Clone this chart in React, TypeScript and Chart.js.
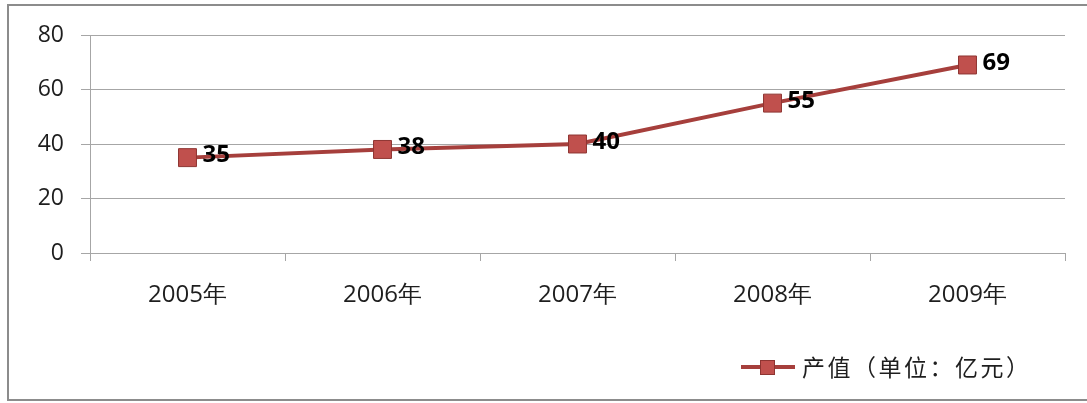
import React, { useEffect, useRef } from "react";
import { Chart, registerables } from "chart.js";

Chart.register(...registerables);

const categories = ["2005年", "2006年", "2007年", "2008年", "2009年"];
const values = [35, 38, 40, 55, 69];
const seriesName = "产值（单位：亿元）";
const yTicks = [0, 20, 40, 60, 80];

const LINE = "#a63f3c";
const FILL = "#c0504d";
const EDGE = "#8e3532";
const GRID = "#a6a6a6";
const TEXT = "#1e1e1e";
const NUM_FONT = "'Open Sans', sans-serif";
const CJK_FONT = "'Noto Sans CJK SC', sans-serif";

const framePlugin = {
  id: "frame",
  beforeDraw(chart: any) {
    const ctx = chart.ctx;
    ctx.save();
    ctx.fillStyle = "#ffffff";
    ctx.fillRect(0, 0, chart.width, chart.height);
    ctx.strokeStyle = "#8c8c8c";
    ctx.lineWidth = 2;
    ctx.strokeRect(8, 5, chart.width + 20, chart.height - 8);
    ctx.restore();
  },
  afterDraw(chart: any) {
    const ctx = chart.ctx;
    const meta = chart.getDatasetMeta(0);
    ctx.save();
    ctx.font = "bold 24px " + NUM_FONT;
    ctx.fillStyle = "#000";
    ctx.textAlign = "left";
    ctx.textBaseline = "middle";
    meta.data.forEach((pt: any, i: number) => {
      ctx.fillText(String(values[i]), pt.x + 15, pt.y - 2);
    });
    // legend
    const ly = 367;
    ctx.strokeStyle = LINE;
    ctx.lineWidth = 4;
    ctx.beginPath();
    ctx.moveTo(741, ly);
    ctx.lineTo(795, ly);
    ctx.stroke();
    ctx.fillStyle = FILL;
    ctx.strokeStyle = EDGE;
    ctx.lineWidth = 1;
    ctx.fillRect(760, ly - 7, 15, 15);
    ctx.strokeRect(760.5, ly - 6.5, 14, 14);
    ctx.font = "23px " + CJK_FONT;
    (ctx as any).letterSpacing = "2.5px";
    ctx.fillStyle = TEXT;
    ctx.textBaseline = "middle";
    ctx.fillText(seriesName, 802, ly);
    ctx.restore();
  },
};

export default function App() {
  const ref = useRef<HTMLCanvasElement | null>(null);
  useEffect(() => {
    if (!ref.current) return;
    const chart = new Chart(ref.current, {
      type: "line",
      data: {
        labels: categories,
        datasets: [
          {
            label: seriesName,
            data: values,
            borderColor: LINE,
            borderWidth: 4,
            backgroundColor: FILL,
            pointStyle: "rect",
            pointRadius: 12.7,
            pointBackgroundColor: FILL,
            pointBorderColor: EDGE,
            pointBorderWidth: 1,
            tension: 0,
          },
        ],
      },
      options: {
        animation: false,
        responsive: false,
        layout: { padding: { left: 0, right: 22, top: 35, bottom: 0 } },
        plugins: { legend: { display: false }, tooltip: { enabled: false } },
        scales: {
          x: {
            offset: true,
            grid: {
              offset: true,
              drawOnChartArea: false,
              drawTicks: true,
              tickLength: 8,
              color: GRID,
            },
            border: { display: true, color: GRID },
            ticks: {
              color: TEXT,
              font: { size: 24, family: NUM_FONT },
              padding: 20,
              maxRotation: 0,
            },
            afterFit(scale: any) {
              scale.height = 150;
            },
          },
          y: {
            min: 0,
            max: 80,
            afterBuildTicks(scale: any) {
              scale.ticks = yTicks.map((v) => ({ value: v }));
            },
            grid: { color: GRID, tickLength: 9, drawTicks: true },
            border: { display: true, color: GRID },
            ticks: {
              color: TEXT,
              font: { size: 23, family: NUM_FONT },
              padding: 17,
            },
            afterFit(scale: any) {
              scale.width = 90;
            },
          },
        },
      },
      plugins: [framePlugin],
    });
    return () => chart.destroy();
  }, []);
  return (
    <div style={{ position: "absolute", left: 0, top: 0, width: 1087, height: 403 }}>
      <canvas ref={ref} width={1087} height={403} style={{ display: "block" }} />
    </div>
  );
}
